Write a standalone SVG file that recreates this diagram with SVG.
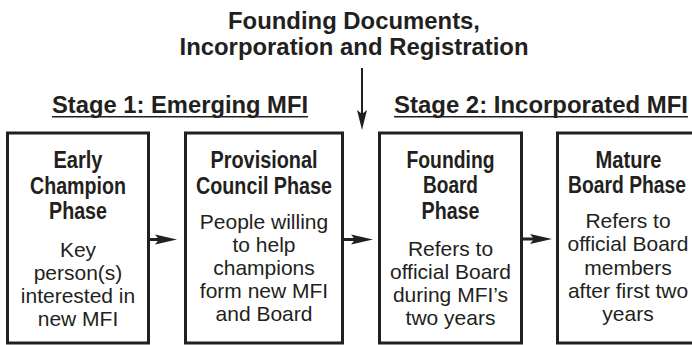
<svg xmlns="http://www.w3.org/2000/svg" width="692" height="345" viewBox="0 0 692 345">
  <style>
    .box { fill: #ffffff; stroke: #231f20; stroke-width: 3; }
    .title { font-family: "Liberation Sans", Arial, sans-serif; font-weight: bold; font-size: 23.5px; fill: #231f20; text-anchor: middle; }
    .stage { font-family: "Liberation Sans", Arial, sans-serif; font-weight: bold; font-size: 23px; fill: #231f20; }
    .head { font-family: "Liberation Sans", Arial, sans-serif; font-weight: bold; font-size: 23px; fill: #231f20; text-anchor: middle; }
    .body { font-family: "Liberation Sans", Arial, sans-serif; font-size: 21px; fill: #231f20; text-anchor: middle; }
    .rule { stroke: #231f20; stroke-width: 1.6; }
    .shaft { stroke: #231f20; stroke-width: 3; fill: none; }
    .thin { stroke: #231f20; stroke-width: 2; fill: none; }
    .tip { fill: #231f20; stroke: none; }
  </style>
  <rect width="692" height="345" fill="#ffffff"/>

  <!-- headline above the flow -->
  <g id="milestone">
    <text class="title" x="354" y="28.5" textLength="252" lengthAdjust="spacingAndGlyphs">Founding Documents,</text>
    <text class="title" x="354" y="54.5" textLength="349" lengthAdjust="spacingAndGlyphs">Incorporation and Registration</text>
  </g>

  <!-- stage captions -->
  <g id="stage1">
    <text class="stage" x="52" y="113" textLength="256" lengthAdjust="spacingAndGlyphs">Stage 1: Emerging MFI</text>
    <line class="rule" x1="52" y1="116.8" x2="308" y2="116.8"/>
  </g>
  <g id="stage2">
    <text class="stage" x="394" y="113" textLength="294" lengthAdjust="spacingAndGlyphs">Stage 2: Incorporated MFI</text>
    <line class="rule" x1="394" y1="116.8" x2="688" y2="116.8"/>
  </g>

  <!-- phase boxes -->
  <g id="early-champion">
    <rect class="box" x="7.5" y="133" width="141" height="210"/>
    <text class="head" x="78" y="168" textLength="49" lengthAdjust="spacingAndGlyphs">Early</text>
    <text class="head" x="78" y="193.5" textLength="96" lengthAdjust="spacingAndGlyphs">Champion</text>
    <text class="head" x="78" y="219" textLength="58" lengthAdjust="spacingAndGlyphs">Phase</text>
    <text class="body" x="78" y="257">Key</text>
    <text class="body" x="78" y="280">person(s)</text>
    <text class="body" x="78" y="303">interested in</text>
    <text class="body" x="78" y="325.5">new MFI</text>
  </g>

  <g id="provisional-council">
    <rect class="box" x="185.5" y="133" width="157" height="210"/>
    <text class="head" x="264" y="167.5" textLength="107" lengthAdjust="spacingAndGlyphs">Provisional</text>
    <text class="head" x="264" y="193.5" textLength="136" lengthAdjust="spacingAndGlyphs">Council Phase</text>
    <text class="body" x="264" y="229">People willing</text>
    <text class="body" x="264" y="252">to help</text>
    <text class="body" x="264" y="275">champions</text>
    <text class="body" x="264" y="298">form new MFI</text>
    <text class="body" x="264" y="321">and Board</text>
  </g>

  <g id="founding-board">
    <rect class="box" x="379.5" y="133" width="142" height="210"/>
    <text class="head" x="450.5" y="167.5" textLength="88" lengthAdjust="spacingAndGlyphs">Founding</text>
    <text class="head" x="450.5" y="193" textLength="55" lengthAdjust="spacingAndGlyphs">Board</text>
    <text class="head" x="450.5" y="218.5" textLength="58" lengthAdjust="spacingAndGlyphs">Phase</text>
    <text class="body" x="450.5" y="256">Refers to</text>
    <text class="body" x="450.5" y="279">official Board</text>
    <text class="body" x="450.5" y="302">during MFI’s</text>
    <text class="body" x="450.5" y="325">two years</text>
  </g>

  <g id="mature-board">
    <rect class="box" x="557.5" y="133" width="142" height="210"/>
    <text class="head" x="628.5" y="167.5" textLength="66" lengthAdjust="spacingAndGlyphs">Mature</text>
    <text class="head" x="627" y="193" textLength="118" lengthAdjust="spacingAndGlyphs">Board Phase</text>
    <text class="body" x="628" y="228">Refers to</text>
    <text class="body" x="628" y="251">official Board</text>
    <text class="body" x="628" y="274.5">members</text>
    <text class="body" x="628" y="298">after first two</text>
    <text class="body" x="628" y="321">years</text>
  </g>

  <!-- connectors -->
  <g id="connectors">
    <line class="thin" x1="362" y1="68" x2="362" y2="114"/>
    <path class="tip" d="M362,130 L357,110 L362,114 L367,110 Z"/>

    <line class="shaft" x1="149" y1="239.5" x2="160" y2="239.5"/>
    <path class="tip" d="M177,239.5 L155,234.5 L159,239.5 L155,244.5 Z"/>

    <line class="shaft" x1="343" y1="239.5" x2="356" y2="239.5"/>
    <path class="tip" d="M373,239.5 L351,234.5 L355,239.5 L351,244.5 Z"/>

    <line class="shaft" x1="522" y1="239" x2="535" y2="239"/>
    <path class="tip" d="M552,239 L530,234 L534,239 L530,244 Z"/>
  </g>
</svg>
